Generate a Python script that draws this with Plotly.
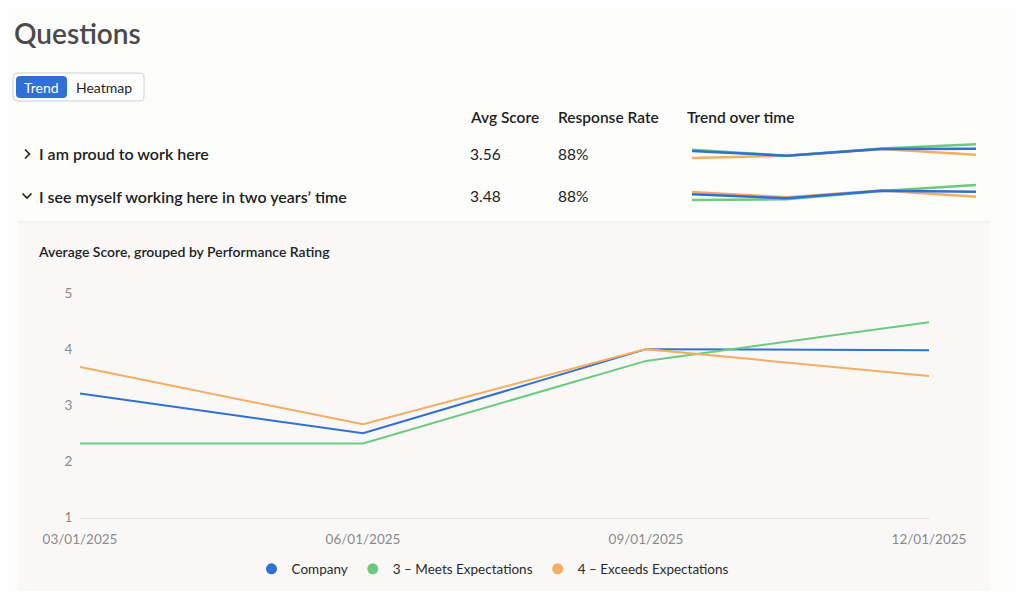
import plotly.graph_objects as go

# ---------------- data ----------------
dates = ["03/01/2025", "06/01/2025", "09/01/2025", "12/01/2025"]
series_names = ["Company", "3 – Meets Expectations", "4 – Exceeds Expectations"]

# Expanded question chart: "I see myself working here in two years' time"
company = [3.21, 2.50, 4.00, 3.98]
meets = [2.32, 2.32, 3.79, 4.48]
exceeds = [3.68, 2.66, 4.00, 3.52]

# Sparkline: "I am proud to work here"
proud_company = [3.33, 2.65, 3.62, 3.66]
proud_meets = [3.52, 2.65, 3.70, 4.29]
proud_exceeds = [2.32, 2.65, 3.62, 2.80]

# Sparkline: "I see myself working here in two years' time"
two_yr_company = [3.14, 2.56, 3.66, 3.52]
two_yr_meets = [2.32, 2.42, 3.62, 4.48]
two_yr_exceeds = [3.47, 2.71, 3.70, 2.80]

questions = ["I am proud to work here", "I see myself working here in two years’ time"]
avg_scores = ["3.56", "3.48"]
response_rates = ["88%", "88%"]
y_ticks = [1, 2, 3, 4, 5]

colors = ["#2f6fd6", "#6acb7e", "#f5ad62"]

# page body has an 8px margin; figure sized to fit inside the window
OFF = 8
W, H = 1008, 583
FONT = "Lato"


def px(x):
    return (x - OFF) / W


def py(y):
    return 1 - (y - OFF) / H


def rounded_rect(x0, y0, x1, y1, r):
    X0, X1 = px(x0), px(x1)
    Y0, Y1 = py(y0), py(y1)
    rx, ry = r / W, r / H
    return (f"M {X0+rx},{Y0} L {X1-rx},{Y0} Q {X1},{Y0} {X1},{Y0-ry} "
            f"L {X1},{Y1+ry} Q {X1},{Y1} {X1-rx},{Y1} L {X0+rx},{Y1} "
            f"Q {X0},{Y1} {X0},{Y1+ry} L {X0},{Y0-ry} Q {X0},{Y0} {X0+rx},{Y0} Z")


fig = go.Figure()

main_sets = [company, meets, exceeds]
for name, vals, c in zip(series_names, main_sets, colors):
    fig.add_trace(go.Scatter(x=list(range(len(dates))), y=vals, mode="lines",
                             line=dict(color=c, width=2), name=name,
                             showlegend=False, hoverinfo="skip",
                             xaxis="x", yaxis="y"))
for name, c in zip(series_names, colors):
    fig.add_trace(go.Scatter(x=[None], y=[None], mode="markers",
                             marker=dict(color=c, size=11, symbol="circle"),
                             name=name, showlegend=True, xaxis="x", yaxis="y"))

spark_sets = [[proud_company, proud_meets, proud_exceeds],
              [two_yr_company, two_yr_meets, two_yr_exceeds]]
for i, sets in enumerate(spark_sets):
    ax = str(i + 2)
    for idx in [2, 1, 0]:
        fig.add_trace(go.Scatter(x=list(range(len(dates))), y=sets[idx], mode="lines",
                                 line=dict(color=colors[idx], width=2.5),
                                 showlegend=False, hoverinfo="skip",
                                 xaxis="x" + ax, yaxis="y" + ax))

shapes = []
shapes.append(dict(type="rect", xref="paper", yref="paper",
                   x0=px(18), x1=px(990), y0=0, y1=py(222),
                   fillcolor="#f9f8f7", line=dict(width=0), layer="below"))
shapes.append(dict(type="line", xref="paper", yref="paper",
                   x0=px(18), x1=px(990), y0=py(222), y1=py(222),
                   line=dict(color="#ebebeb", width=1), layer="below"))
shapes.append(dict(type="path", xref="paper", yref="paper",
                   path=rounded_rect(13, 73, 144, 101, 5),
                   fillcolor="#ffffff", line=dict(color="#cfcfcf", width=1), layer="below"))
shapes.append(dict(type="path", xref="paper", yref="paper",
                   path=rounded_rect(16, 76, 67, 98, 4),
                   fillcolor="#2f6fd6", line=dict(width=0), layer="below"))
shapes.append(dict(type="path", xref="paper", yref="paper",
                   path=f"M {px(25)},{py(149.5)} L {px(29.5)},{py(154)} L {px(25)},{py(158.5)}",
                   line=dict(color="#1e1e1e", width=1.6)))
shapes.append(dict(type="path", xref="paper", yref="paper",
                   path=f"M {px(22.5)},{py(193.5)} L {px(27)},{py(198)} L {px(31.5)},{py(193.5)}",
                   line=dict(color="#1e1e1e", width=1.6)))

annotations = []


def txt(x, y, s, size, color="#1e1e1e", weight=400, xanchor="left"):
    annotations.append(dict(x=px(x), y=py(y), xref="paper", yref="paper", text=s,
                            showarrow=False, xanchor=xanchor, yanchor="middle",
                            font=dict(family=FONT, size=size, color=color, weight=weight)))


txt(12, 33, "Questions", 28, "#4a4a4a", 600)
txt(41.5, 87, "Trend", 14, "#ffffff", xanchor="center")
txt(104, 87, "Heatmap", 14, "#1e1e1e", xanchor="center")
txt(468, 117, "Avg Score", 15.5, "#1e1e1e", 600)
txt(556, 117, "Response Rate", 15.5, "#1e1e1e", 600)
txt(685, 117, "Trend over time", 15.5, "#1e1e1e", 600)
row_y = [154, 196]
for q, a, r, yy in zip(questions, avg_scores, response_rates, row_y):
    txt(37, yy, q, 16, "#1e1e1e", 600)
    txt(468, yy, a, 15.5, "#1e1e1e")
    txt(556, yy, r, 15.5, "#1e1e1e")
txt(36, 252, "Average Score, grouped by Performance Rating", 14, "#222222", 600)

axis_font = dict(family=FONT, size=13.5, color="#8a8a8a")

layout = dict(
    width=W, height=H,
    autosize=False,
    margin=dict(l=0, r=0, t=0, b=0, pad=0, autoexpand=False),
    paper_bgcolor="#fcfcfb",
    plot_bgcolor="rgba(0,0,0,0)",
    font=dict(family=FONT),
    shapes=shapes,
    annotations=annotations,
    xaxis=dict(domain=[px(80), px(929)], range=[0, 3], tickmode="array",
               tickvals=list(range(len(dates))), ticktext=dates,
               showgrid=False, zeroline=False, showline=True,
               linecolor="#dedede", linewidth=1, automargin=False,
               ticks="outside", ticklen=9, tickcolor="rgba(0,0,0,0)",
               tickfont=axis_font, fixedrange=True),
    yaxis=dict(domain=[py(517.5), py(293)], range=[1, 5], tickvals=y_ticks,
               showgrid=False, zeroline=False, showline=False, automargin=False,
               ticks="outside", ticklen=4, tickcolor="rgba(0,0,0,0)",
               tickfont=axis_font, fixedrange=True),
    legend=dict(orientation="h", x=px(493), xanchor="center", y=py(569), yanchor="middle",
                font=dict(family=FONT, size=13.5, color="#2a2a2a"),
                bgcolor="rgba(0,0,0,0)", itemwidth=30, tracegroupgap=0),
    showlegend=True,
)

spark_y = [(139.4, 167.1), (181.4, 209.1)]
for i, (top, bot) in enumerate(spark_y):
    ax = str(i + 2)
    layout["xaxis" + ax] = dict(domain=[px(692), px(976)], range=[0, 3], visible=False,
                                anchor="y" + ax, fixedrange=True, automargin=False)
    layout["yaxis" + ax] = dict(domain=[py(bot), py(top)], range=[1, 5], visible=False,
                                anchor="x" + ax, fixedrange=True, automargin=False)

fig.update_layout(**layout)
fig.write_html("out.html")
